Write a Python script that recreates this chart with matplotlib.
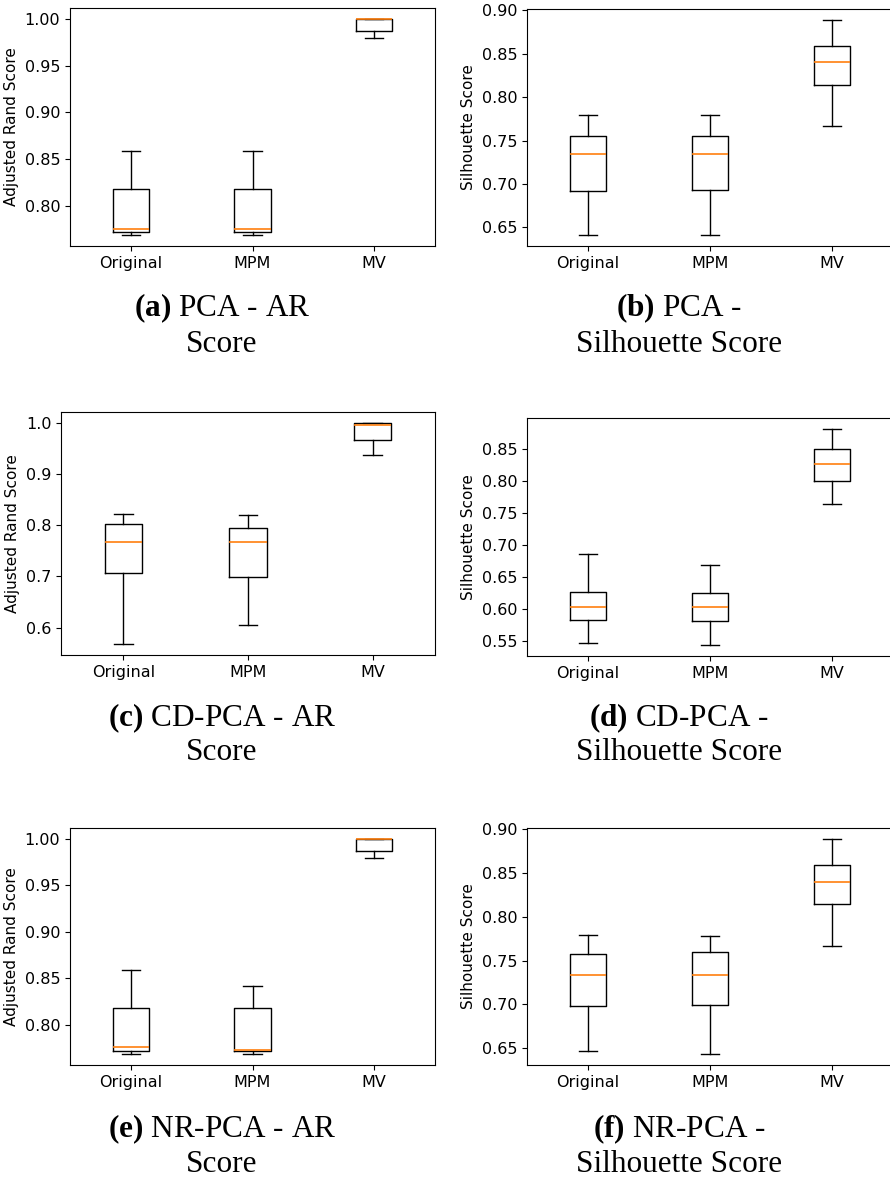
import matplotlib
matplotlib.use("Agg")
import matplotlib.pyplot as plt
from matplotlib.ticker import MultipleLocator

plt.rcParams["mathtext.fontset"] = "custom"
plt.rcParams["mathtext.rm"] = "Liberation Serif"
plt.rcParams["mathtext.bf"] = "Liberation Serif:bold"

methods = ["Original", "MPM", "MV"]

# per method: lower whisker, q1, median, q3, upper whisker
pca_ar = [
    [0.769, 0.772, 0.776, 0.818, 0.859],
    [0.769, 0.772, 0.776, 0.818, 0.859],
    [0.979, 0.987, 1.000, 1.000, 1.000],
]
pca_sil = [
    [0.641, 0.692, 0.734, 0.755, 0.779],
    [0.641, 0.693, 0.734, 0.755, 0.779],
    [0.767, 0.814, 0.840, 0.859, 0.889],
]
cdpca_ar = [
    [0.568, 0.706, 0.768, 0.803, 0.823],
    [0.605, 0.699, 0.767, 0.795, 0.821],
    [0.937, 0.967, 0.996, 1.000, 1.000],
]
cdpca_sil = [
    [0.546, 0.583, 0.603, 0.626, 0.685],
    [0.543, 0.581, 0.602, 0.624, 0.669],
    [0.763, 0.799, 0.826, 0.849, 0.881],
]
nrpca_ar = [
    [0.768, 0.771, 0.776, 0.818, 0.859],
    [0.768, 0.771, 0.773, 0.818, 0.841],
    [0.979, 0.987, 1.000, 1.000, 1.000],
]
nrpca_sil = [
    [0.647, 0.698, 0.734, 0.757, 0.779],
    [0.643, 0.699, 0.733, 0.760, 0.778],
    [0.767, 0.814, 0.840, 0.859, 0.889],
]

# data, y label, y tick step, caption lines
panels = [
    (pca_ar, "Adjusted Rand Score", 0.05, r"$\mathbf{(a)}$ PCA - AR", "Score"),
    (pca_sil, "Silhouette Score", 0.05, r"$\mathbf{(b)}$ PCA -", "Silhouette Score"),
    (cdpca_ar, "Adjusted Rand Score", 0.1, r"$\mathbf{(c)}$ CD-PCA - AR", "Score"),
    (cdpca_sil, "Silhouette Score", 0.05, r"$\mathbf{(d)}$ CD-PCA -", "Silhouette Score"),
    (nrpca_ar, "Adjusted Rand Score", 0.05, r"$\mathbf{(e)}$ NR-PCA - AR", "Score"),
    (nrpca_sil, "Silhouette Score", 0.05, r"$\mathbf{(f)}$ NR-PCA -", "Silhouette Score"),
]

W, H = 890, 1177
fig = plt.figure(figsize=(W / 100, H / 100), dpi=100)

# axes boxes in pixels: left, top, right, bottom
boxes = [
    (70, 8, 435, 246),
    (527, 9, 893, 246),
    (61, 412, 435, 655),
    (527, 418, 893, 656),
    (70, 828, 435, 1065),
    (527, 828, 893, 1065),
]
# caption line centres (y, px) per row, caption x centre per column
cap_rows = [(308, 344), (718, 753), (1129, 1164)]
cap_cols = [222, 679]


def to_stats(rows):
    out = []
    for name, (lo, q1, med, q3, hi) in zip(methods, rows):
        out.append(dict(label=name, whislo=lo, q1=q1, med=med, q3=q3, whishi=hi, fliers=[]))
    return out


for i, (data, ylabel, step, cap1, cap2) in enumerate(panels):
    l, t, r, b = boxes[i]
    ax = fig.add_axes([l / W, 1 - b / H, (r - l) / W, (b - t) / H])
    ax.bxp(to_stats(data), showfliers=False,
           medianprops=dict(color="#ff7f0e", linewidth=1.2))
    ax.yaxis.set_major_locator(MultipleLocator(step))
    ax.set_ylabel(ylabel, fontsize=11)
    ax.tick_params(labelsize=11.5)

    y1, y2 = cap_rows[i // 2]
    x = cap_cols[i % 2]
    fig.text(x / W, 1 - y1 / H, cap1, ha="center", va="center",
             family="Liberation Serif", fontsize=22.5)
    fig.text(x / W, 1 - y2 / H, cap2, ha="center", va="center",
             family="Liberation Serif", fontsize=22.5)

fig.savefig("out.png", dpi=100)
